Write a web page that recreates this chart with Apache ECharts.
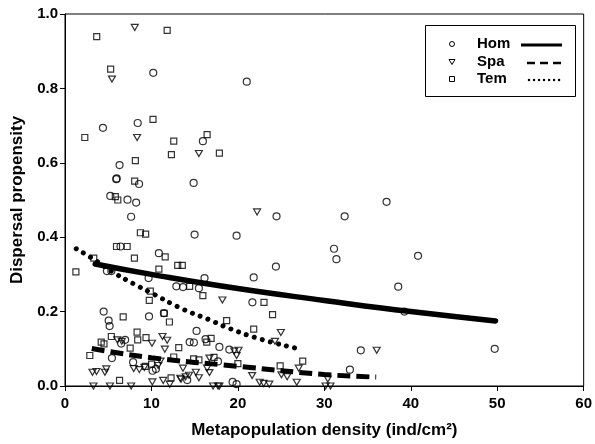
<!DOCTYPE html>
<html>
<head>
<meta charset="utf-8">
<script src="https://cdn.jsdelivr.net/npm/echarts@6/dist/echarts.min.js"></script>
<style>
    html, body { margin: 0; padding: 0; background: #fff; }
    #dispersalChart { width: 595px; height: 444px; }
</style>
</head>
<body>
<div id="dispersalChart"></div>
<script>
// points [density, dispersal]
var homPoints = [
    [10.21, 0.842], [21.03, 0.818], [4.39, 0.694], [8.41, 0.707], [15.95, 0.658], [6.31, 0.594],
    [5.93, 0.556], [5.98, 0.558], [8.57, 0.543], [14.88, 0.546], [5.24, 0.511], [7.23, 0.501],
    [8.23, 0.493], [7.65, 0.455], [14.99, 0.407], [6.42, 0.375], [10.86, 0.357], [4.85, 0.309],
    [5.36, 0.309], [9.67, 0.290], [16.14, 0.290], [12.88, 0.268], [13.65, 0.266], [15.49, 0.263],
    [24.47, 0.456], [32.35, 0.456], [37.2, 0.495], [19.85, 0.404], [31.12, 0.369], [31.4, 0.341],
    [24.4, 0.321], [21.83, 0.292], [38.55, 0.267], [40.84, 0.350], [39.27, 0.200], [49.71, 0.100],
    [21.68, 0.225], [15.22, 0.148], [16.26, 0.126], [14.42, 0.118], [14.91, 0.117], [17.86, 0.105],
    [19.01, 0.098], [34.22, 0.096], [17.7, 0.066], [32.96, 0.044], [14.14, 0.016], [19.39, 0.011],
    [19.85, 0.005], [4.47, 0.200], [5.05, 0.176], [5.16, 0.161], [9.72, 0.187], [11.44, 0.196],
    [6.96, 0.124], [6.5, 0.114], [5.43, 0.075], [7.88, 0.064], [10.13, 0.041], [10.52, 0.046]
];
var spaPoints = [
    [8.07, 0.964], [5.43, 0.825], [8.34, 0.668], [15.49, 0.625], [22.22, 0.468], [18.21, 0.231],
    [24.97, 0.144], [24.29, 0.120], [19.58, 0.094], [20.08, 0.096], [19.85, 0.082], [36.06, 0.096],
    [16.71, 0.075], [13.65, 0.048], [27.04, 0.048], [21.65, 0.028], [25.04, 0.030], [25.7, 0.025],
    [30.4, 0.019], [15.49, 0.022], [15.14, 0.037], [13.42, 0.018], [13.96, 0.025], [22.52, 0.010],
    [22.98, 0.007], [23.63, 0.005], [26.81, 0.010], [17.13, 0], [17.7, 0], [17.86, 0], [30.14, 0],
    [30.71, 0], [3.29, 0], [5.2, 0], [7.65, 0], [3.18, 0.037], [3.64, 0.039], [4.78, 0.046],
    [4.62, 0.037], [6.05, 0.124], [6.57, 0.120], [7.95, 0.047], [8.6, 0.044], [9.18, 0.050],
    [10.1, 0.011], [10.06, 0.115], [11.55, 0.099], [11.28, 0.133], [11.82, 0.123], [11.05, 0.067],
    [11.36, 0.015], [12.12, 0.005], [13.34, 0.021], [14.34, 0.029], [16.44, 0.048], [16.71, 0.036],
    [10.78, 0.055]
];
var temPoints = [
    [3.67, 0.939], [11.82, 0.956], [5.28, 0.852], [10.18, 0.717], [2.29, 0.668], [12.58, 0.658],
    [16.44, 0.676], [12.31, 0.622], [17.86, 0.626], [8.14, 0.606], [8.06, 0.551], [5.82, 0.509],
    [6.11, 0.500], [8.72, 0.412], [9.33, 0.408], [5.96, 0.375], [7.19, 0.375], [11.59, 0.347],
    [8.03, 0.344], [3.33, 0.344], [1.26, 0.307], [10.86, 0.314], [13.04, 0.324], [13.57, 0.324],
    [9.87, 0.255], [14.42, 0.268], [15.95, 0.243], [23.02, 0.225], [24.01, 0.192], [18.7, 0.176],
    [21.83, 0.153], [16.4, 0.118], [16.9, 0.128], [27.5, 0.067], [14.88, 0.073], [15.49, 0.070],
    [17.24, 0.077], [20.0, 0.060], [24.89, 0.054], [12.08, 0.172], [13.16, 0.103], [12.58, 0.078],
    [12.27, 0.022], [9.75, 0.230], [6.73, 0.186], [11.47, 0.195], [8.34, 0.145], [5.36, 0.133],
    [8.41, 0.124], [9.37, 0.130], [4.19, 0.118], [4.51, 0.113], [7.54, 0.102], [2.87, 0.082],
    [9.29, 0.053], [6.31, 0.015], [10.02, 0.059]
];
// fitted curves
var homFit = [[3.5, 0.328], [10, 0.300], [20, 0.262], [30, 0.230], [40, 0.200], [49.8, 0.175]];
var spaFit = [[3.1, 0.101], [10, 0.076], [20, 0.053], [30, 0.031], [36, 0.024]];
var temFit = [[1.3, 0.369], [3.3, 0.341], [5.7, 0.304], [8, 0.274], [10, 0.250], [13.6, 0.207],
    [16.5, 0.180], [19, 0.155], [22.5, 0.127], [27, 0.100]];
var xTicks = [0, 10, 20, 30, 40, 50, 60];
var yTicks = ['0.0', '0.2', '0.4', '0.6', '0.8', '1.0'];
var legendNames = ['Hom', 'Spa', 'Tem'];

var fontFam = '"Liberation Sans", Arial, sans-serif';
var triPath = 'path://M0,0L10,0L5,8.66Z';
var hollow = { color: 'rgba(0,0,0,0)', borderColor: '#000', borderWidth: 1.2 };

var myChart = echarts.init(document.getElementById('dispersalChart'));
var option = {
    animation: false,
    backgroundColor: '#fff',
    grid: {
        left: 65, right: 7, top: 14, bottom: 56,
        show: true, borderColor: '#000', borderWidth: 1
    },
    xAxis: {
        type: 'value',
        min: xTicks[0], max: xTicks[xTicks.length - 1], interval: 10,
        name: 'Metapopulation density (ind/cm²)',
        nameLocation: 'middle', nameGap: 36,
        nameTextStyle: { fontFamily: fontFam, fontWeight: 'bold', fontSize: 17, color: '#000' },
        axisLine: { lineStyle: { color: '#000', width: 1 } },
        axisTick: { show: true, length: 5, lineStyle: { color: '#000' } },
        axisLabel: { margin: 10, fontFamily: fontFam, fontWeight: 'bold', fontSize: 15, color: '#000' },
        splitLine: { show: false }
    },
    yAxis: {
        type: 'value',
        min: 0, max: 1, interval: 0.2,
        name: 'Dispersal propensity',
        nameLocation: 'middle', nameGap: 35,
        nameTextStyle: { fontFamily: fontFam, fontWeight: 'bold', fontSize: 17, color: '#000' },
        axisLine: { show: true, lineStyle: { color: '#000', width: 1 } },
        axisTick: { show: true, length: 5, lineStyle: { color: '#000' } },
        axisLabel: {
            margin: 7, fontFamily: fontFam, fontWeight: 'bold', fontSize: 15, color: '#000',
            formatter: function (v) { return yTicks[Math.round(v / 0.2)]; }
        },
        splitLine: { show: false }
    },
    series: [
        { name: 'Hom', type: 'scatter', symbol: 'circle', symbolSize: 7, itemStyle: hollow, data: homPoints, z: 3 },
        { name: 'Spa', type: 'scatter', symbol: triPath, symbolSize: [7, 6], itemStyle: hollow, data: spaPoints, z: 3 },
        { name: 'Tem', type: 'scatter', symbol: 'rect', symbolSize: 6, itemStyle: hollow, data: temPoints, z: 3 },
        {
            name: 'Hom fit', type: 'line', data: homFit, smooth: true, symbol: 'none', z: 4,
            lineStyle: { color: '#000', width: 5.5, cap: 'round' }
        },
        {
            name: 'Spa fit', type: 'line', data: spaFit, smooth: true, symbol: 'none', z: 4,
            lineStyle: { color: '#000', width: 5, type: [13, 6], cap: 'butt' }
        },
        {
            name: 'Tem fit', type: 'line', data: temFit, smooth: true, symbol: 'none', z: 4,
            lineStyle: { color: '#000', width: 5, type: [0.01, 8.3], cap: 'round' }
        }
    ],
    //图例框
    graphic: [
        { type: 'rect', shape: { x: 425.5, y: 25.5, width: 150, height: 71 }, style: { fill: '#fff', stroke: '#000', lineWidth: 1 }, z: 10 },
        { type: 'circle', shape: { cx: 452, cy: 44, r: 2.5 }, style: { fill: 'none', stroke: '#000', lineWidth: 1 }, z: 11 },
        { type: 'polygon', shape: { points: [[449, 59.5], [455, 59.5], [452, 64.5]] }, style: { fill: 'none', stroke: '#000', lineWidth: 1 }, z: 11 },
        { type: 'rect', shape: { x: 449.5, y: 76.5, width: 5, height: 5 }, style: { fill: 'none', stroke: '#000', lineWidth: 1 }, z: 11 },
        { type: 'text', left: 477, top: 36, style: { text: legendNames[0], font: 'bold 15px ' + fontFam, fill: '#000' }, z: 11 },
        { type: 'text', left: 477, top: 54, style: { text: legendNames[1], font: 'bold 15px ' + fontFam, fill: '#000' }, z: 11 },
        { type: 'text', left: 477, top: 71, style: { text: legendNames[2], font: 'bold 15px ' + fontFam, fill: '#000' }, z: 11 },
        { type: 'line', shape: { x1: 521, y1: 45, x2: 562, y2: 45 }, style: { stroke: '#000', lineWidth: 3 }, z: 11 },
        { type: 'line', shape: { x1: 527, y1: 63, x2: 561, y2: 63 }, style: { stroke: '#000', lineWidth: 2.5, lineDash: [8, 5] }, z: 11 },
        { type: 'line', shape: { x1: 529, y1: 80, x2: 561, y2: 80 }, style: { stroke: '#000', lineWidth: 2.5, lineDash: [0.01, 5], lineCap: 'round' }, z: 11 }
    ]
};
option && myChart.setOption(option);
</script>
</body>
</html>
